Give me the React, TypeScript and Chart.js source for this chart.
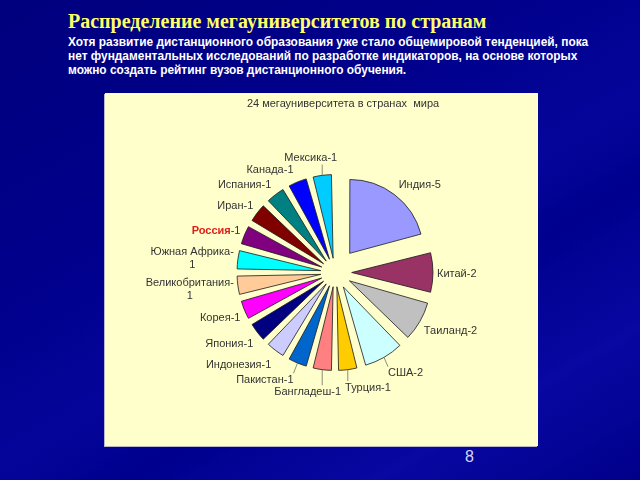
import React, { useEffect, useRef } from "react";
import { Chart, PieController, ArcElement } from "chart.js";

Chart.register(PieController, ArcElement);

const countries = [
  "Индия", "Китай", "Таиланд", "США", "Турция", "Бангладеш", "Пакистан", "Индонезия",
  "Япония", "Корея", "Великобритания", "Южная Африка", "Россия", "Иран", "Испания", "Канада", "Мексика",
];
const universities = [5, 2, 2, 2, 1, 1, 1, 1, 1, 1, 1, 1, 1, 1, 1, 1, 1];
const sliceColors = [
  "#9999FF", "#993366", "#C0C0C0", "#CCFFFF", "#FFCC00", "#FF8080", "#0066CC", "#CCCCFF",
  "#000080", "#FF00FF", "#FFCC99", "#00FFFF", "#800080", "#800000", "#008080", "#0000FF", "#00CCFF",
];
const highlightedCountries = ["Россия"];
const chartTitle = "24 мегауниверситета в странах  мира";
const slideTitle = "Распределение мегауниверситетов по странам";
const slideTextLines = [
  "Хотя развитие дистанционного образования уже стало общемировой тенденцией, пока",
  "нет фундаментальных исследований по разработке индикаторов, на основе которых",
  "можно создать рейтинг вузов дистанционного обучения.",
];
const pageNumber = "8";

const EXPLODE = 25;
const RADIUS = 73;
const LABEL_FONT = '"Liberation Sans", Arial, sans-serif';
const FONT_SIZE = 11;
const LINE_H = 13;
const TOTAL = universities.reduce((a, b) => a + b, 0);

const chartTitlePlugin = {
  id: "chartTitleText",
  afterDraw(chart: any) {
    const ctx = chart.ctx;
    ctx.save();
    ctx.font = `11px ${LABEL_FONT}`;
    ctx.fillStyle = "#333";
    ctx.textAlign = "center";
    ctx.textBaseline = "middle";
    ctx.fillText(chartTitle, chart.width / 2 + 21.5, 11);
    ctx.restore();
  },
};

const labelPlugin = {
  id: "sliceLabels",
  afterDatasetsDraw(chart: any) {
    const ctx = chart.ctx;
    const meta = chart.getDatasetMeta(0);
    const items: any[] = [];
    const normalFont = `${FONT_SIZE}px ${LABEL_FONT}`;
    const boldFont = `bold ${FONT_SIZE}px ${LABEL_FONT}`;
    meta.data.forEach((arc: any, i: number) => {
      const p = arc.getProps(["x", "y", "startAngle", "endAngle", "outerRadius"], true);
      const mid = (p.startAngle + p.endAngle) / 2;
      const ux = Math.cos(mid);
      const uy = Math.sin(mid);
      const r = EXPLODE + p.outerRadius;
      const px = p.x + ux * r;
      const py = p.y + uy * r;
      const name = countries[i];
      const value = String(universities[i]);
      const isHi = highlightedCountries.includes(name);
      ctx.font = normalFont;
      const full = `${name}-${value}`;
      const lines = ctx.measureText(full).width > 80 ? [`${name}-`, value] : [full];
      let w = 0;
      let nameW = 0;
      let restW = 0;
      if (isHi) {
        ctx.font = boldFont;
        nameW = ctx.measureText(name).width;
        ctx.font = normalFont;
        restW = ctx.measureText(`-${value}`).width;
        w = nameW + restW;
      } else {
        lines.forEach((l) => { w = Math.max(w, ctx.measureText(l).width); });
      }
      const h = lines.length * LINE_H;
      let x1: number;
      if (ux >= 0.3) x1 = px + 4;
      else if (ux <= -0.3) x1 = px - 4 - w;
      else x1 = px - (w * (1 - ux / 0.3)) / 2;
      const yc = py + uy * (h / 2 + (uy > 0 ? 10 : 8)) + 1.5;
      items.push({ x1, y1: yc - h / 2, w, h, ux, uy, px, py, lines, isHi, name, value, nameW, restW });
    });
    for (let pass = 0; pass < 3; pass++) {
      for (let i = 0; i < items.length; i++) {
        for (let j = 0; j < i; j++) {
          const a = items[i];
          const b = items[j];
          const ox = Math.min(a.x1 + a.w, b.x1 + b.w) - Math.max(a.x1, b.x1);
          const oy = Math.min(a.y1 + a.h, b.y1 + b.h) - Math.max(a.y1, b.y1) - 2;
          if (ox > 0 && oy > 0) {
            if (Math.sign(a.ux) !== Math.sign(b.ux)) {
              const right = a.ux >= 0 ? a : b;
              const left = right === a ? b : a;
              right.x1 = left.x1 + left.w + 4;
            } else {
              const outer = Math.abs(a.uy) > Math.abs(b.uy) ? a : b;
              outer.y1 += Math.sign(outer.uy) * (oy + 1);
            }
          }
        }
      }
    }
    ctx.save();
    items.forEach((it) => {
      const qx = Math.min(Math.max(it.px, it.x1), it.x1 + it.w);
      const qy = Math.min(Math.max(it.py, it.y1), it.y1 + it.h);
      if (Math.hypot(qx - it.px, qy - it.py) > 9.5) {
        ctx.strokeStyle = "#666";
        ctx.lineWidth = 0.75;
        ctx.beginPath();
        ctx.moveTo(it.px, it.py);
        ctx.lineTo(qx, qy);
        ctx.stroke();
      }
      ctx.textBaseline = "middle";
      if (it.isHi) {
        const y = it.y1 + LINE_H / 2;
        ctx.textAlign = "left";
        ctx.font = boldFont;
        ctx.fillStyle = "#E0201C";
        ctx.fillText(it.name, it.x1, y);
        ctx.font = normalFont;
        ctx.fillStyle = "#333";
        ctx.fillText(`-${it.value}`, it.x1 + it.nameW, y);
      } else {
        ctx.textAlign = "center";
        ctx.font = normalFont;
        ctx.fillStyle = "#333";
        it.lines.forEach((l: string, k: number) => {
          ctx.fillText(l, it.x1 + it.w / 2, it.y1 + LINE_H * (k + 0.5));
        });
      }
    });
    ctx.restore();
  },
};

export default function App() {
  const canvasRef = useRef<HTMLCanvasElement | null>(null);
  useEffect(() => {
    if (!canvasRef.current) return;
    const chart = new Chart(canvasRef.current, {
      type: "pie",
      data: {
        labels: countries,
        datasets: [
          {
            data: universities,
            backgroundColor: sliceColors,
            borderColor: "#1a1a1a",
            borderWidth: 0.8,
            borderJoinStyle: "miter",
            offset: (c: any) => {
              const v = universities[c.dataIndex] ?? 1;
              const circ = (v / TOTAL) * Math.PI * 2;
              const fix = 1 - Math.sin(Math.min(Math.PI, circ));
              return (EXPLODE * 4) / (1 + fix);
            },
          } as any,
        ],
      },
      options: {
        responsive: false,
        animation: false,
        events: [],
        radius: RADIUS,
        layout: { padding: { left: 27, right: 0, top: 6, bottom: 0 } },
        plugins: {
          legend: { display: false },
          tooltip: { enabled: false },
        },
      } as any,
      plugins: [labelPlugin, chartTitlePlugin],
    });
    return () => chart.destroy();
  }, []);

  return (
    <div
      style={{
        position: "fixed",
        left: 0,
        top: 0,
        width: 640,
        height: 480,
        overflow: "hidden",
        background:
          "linear-gradient(150deg, #00007e 0%, #00008c 35%, #05059a 55%, #00008e 65%, #0808a2 82%, #00008a 100%)",
      }}
    >
      <div
        style={{
          position: "absolute",
          left: 68,
          top: 10.8,
          fontFamily: '"Liberation Serif", "Times New Roman", serif',
          fontWeight: "bold",
          fontSize: 20,
          lineHeight: "20px",
          color: "#FFFF66",
          whiteSpace: "nowrap",
        }}
      >
        {slideTitle}
      </div>
      <div
        style={{
          position: "absolute",
          left: 68,
          top: 35,
          fontFamily: LABEL_FONT,
          fontWeight: "bold",
          fontSize: 11.9,
          lineHeight: "14px",
          color: "#FFFFFF",
          whiteSpace: "nowrap",
        }}
      >
        {slideTextLines.map((l, i) => (
          <div key={i}>{l}</div>
        ))}
      </div>
      <div
        style={{
          position: "absolute",
          left: 105,
          top: 93,
          width: 433,
          height: 353,
          background: "#FFFFCC",
          boxShadow: "-1px 1px 0 #b8b8c8",
        }}
      >
        <canvas ref={canvasRef} width={433} height={353} style={{ display: "block", width: 433, height: 353 }} />
      </div>
      <div
        style={{
          position: "absolute",
          left: 465,
          top: 449,
          fontFamily: LABEL_FONT,
          fontSize: 16,
          lineHeight: "16px",
          color: "#D8D8FF",
        }}
      >
        {pageNumber}
      </div>
    </div>
  );
}
